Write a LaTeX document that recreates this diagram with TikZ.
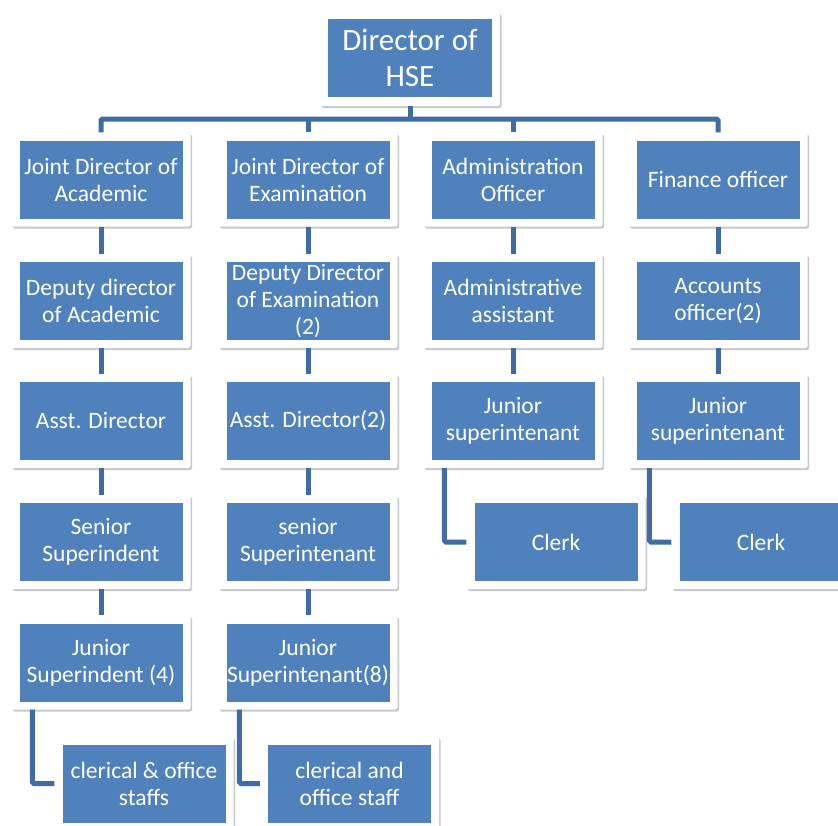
\documentclass[tikz,border=0pt]{standalone}
\usepackage{fontspec}
\setmainfont{Carlito}
\usetikzlibrary{shadows,calc}
\definecolor{boxblue}{HTML}{4F81BD}
\definecolor{linkblue}{HTML}{3F6CA6}
\tikzset{
  frame/.style={fill=white, rounded corners=2pt, minimum width=179pt, minimum height=94pt, inner sep=0pt,
    drop shadow={shadow xshift=1.5pt, shadow yshift=-2pt, opacity=0.3, fill=black!70}},
  box/.style={fill=boxblue, text=white, minimum width=163pt, minimum height=78pt, inner sep=0pt,
    align=center, font=\fontsize{23.5}{27}\selectfont},
  link/.style={draw=linkblue, line width=5pt, rounded corners=1.5pt},
}
\newcommand\orgbox[4][box]{%
  \node[frame] (#2f) at (#3) {};
  \node[#1] (#2) at (#3) {#4};}
\begin{document}
\begin{tikzpicture}[x=1pt,y=-1pt]
\useasboundingbox[fill=white] (0,0) rectangle (838,825);
% top
\node[frame, minimum width=180pt, minimum height=94pt] (topf) at (410,59) {};
\node[box, minimum width=164pt, font=\fontsize{31}{36}\selectfont] (top) at (410,58) {Director of\\HSE};
% column 1
\orgbox{a1}{101,179.5}{Joint Director of\\Academic}
\orgbox{a2}{101,301}{Deputy director\\of Academic}
\orgbox{a3}{101,421}{Asst. Director}
\orgbox{a4}{101,542}{Senior\\Superindent}
\orgbox{a5}{101,662.5}{Junior\\Superindent (4)}
\orgbox{a6}{144,783.5}{clerical \& office\\staffs}
% column 2
\orgbox{b1}{308,179.5}{Joint Director of\\Examination}
\orgbox{b2}{308,301}{Deputy Director\\of Examination\\(2)}
\orgbox{b3}{308,421}{Asst. Director(2)}
\orgbox{b4}{308,542}{senior\\Superintenant}
\orgbox{b5}{308,662.5}{Junior\\Superintenant(8)}
\orgbox{b6}{349.5,783.5}{clerical and\\office staff}
% column 3
\orgbox{c1}{513,179.5}{Administration\\Officer}
\orgbox{c2}{513,301}{Administrative\\assistant}
\orgbox{c3}{513,421}{Junior\\superintenant}
\orgbox{c4}{556,542}{Clerk}
% column 4
\orgbox{d1}{718,179.5}{Finance officer}
\orgbox{d2}{718,301}{Accounts\\officer(2)}
\orgbox{d3}{718,421}{Junior\\superintenant}
\orgbox{d4}{761,542}{Clerk}
% bus
\coordinate (busy) at (0,119);
\draw[link] (topf.south) -- (topf.south |- busy);
\draw[link] (a1f.north) -- (a1f.north |- busy) -- (d1f.north |- busy) -- (d1f.north);
\draw[link] (b1f.north) -- (b1f.north |- busy);
\draw[link] (c1f.north) -- (c1f.north |- busy);
% vertical chains
\foreach \c in {a,b,c,d}{
  \draw[link] (\c1f.south) -- (\c2f.north);
  \draw[link] (\c2f.south) -- (\c3f.north);
}
\foreach \c in {a,b}{
  \draw[link] (\c3f.south) -- (\c4f.north);
  \draw[link] (\c4f.south) -- (\c5f.north);
}
% elbows
\draw[link] ($(a5f.south west)+(21,0)$) |- (a6f.west);
\draw[link] ($(b5f.south west)+(21,0)$) |- (b6f.west);
\draw[link] ($(c3f.south west)+(21,0)$) |- (c4f.west);
\draw[link] ($(d3f.south west)+(21,0)$) |- (d4f.west);
\end{tikzpicture}
\end{document}
